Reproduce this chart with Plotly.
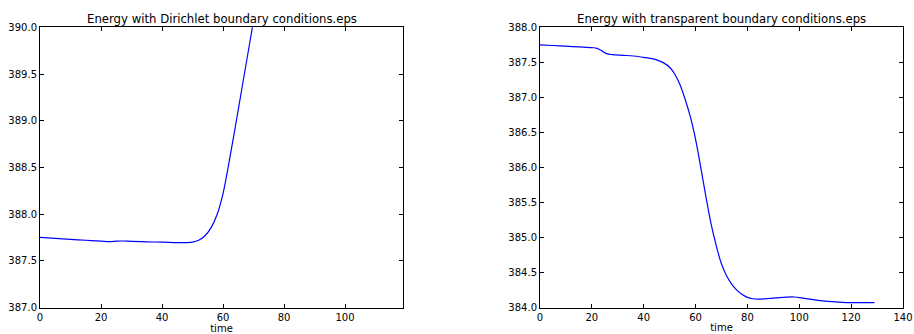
import plotly.graph_objects as go

# Energy history with Dirichlet boundary conditions
t_dirichlet = [0, 5, 10, 15, 20, 23, 25, 27, 30, 35, 40, 45, 48, 50, 52, 54, 56, 58,
               60, 62, 64, 66, 68, 70, 72]
e_dirichlet = [387.75, 387.74, 387.73, 387.72, 387.71, 387.705, 387.71, 387.712,
               387.708, 387.703, 387.70, 387.695, 387.695, 387.70, 387.72, 387.765,
               387.85, 387.99, 388.22, 388.56, 388.93, 389.31, 389.69, 390.07, 390.45]

# Energy history with transparent boundary conditions
t_transparent = [0, 5, 10, 15, 20, 22, 24, 26, 28, 32, 36, 40, 42, 44, 46, 48, 50, 52,
                 54, 56, 58, 60, 62, 64, 66, 68, 70, 72, 74, 76, 78, 80, 82, 84, 87,
                 90, 94, 98, 102, 106, 110, 114, 118, 122, 126, 129]
e_transparent = [387.75, 387.74, 387.73, 387.72, 387.71, 387.70, 387.66, 387.62,
                 387.61, 387.60, 387.59, 387.57, 387.56, 387.545, 387.52, 387.485,
                 387.43, 387.33, 387.18, 386.97, 386.72, 386.40, 386.00, 385.58,
                 385.19, 384.88, 384.62, 384.45, 384.33, 384.245, 384.185, 384.145,
                 384.125, 384.12, 384.125, 384.135, 384.145, 384.15, 384.13, 384.11,
                 384.09, 384.08, 384.07, 384.07, 384.07, 384.07]

titles = ["Energy with Dirichlet boundary conditions.eps",
          "Energy with transparent boundary conditions.eps"]
x_label = "time"

FONT = "DejaVu Sans"
fig = go.Figure()
fig.add_trace(go.Scatter(x=t_dirichlet, y=e_dirichlet, mode="lines",
                         line=dict(color="#0000ff", width=1.2, shape="spline", smoothing=1.0),
                         xaxis="x", yaxis="y", showlegend=False))
fig.add_trace(go.Scatter(x=t_transparent, y=e_transparent, mode="lines",
                         line=dict(color="#0000ff", width=1.2, shape="spline", smoothing=1.0),
                         xaxis="x2", yaxis="y2", showlegend=False))

W, H = 914, 334
dom_x1 = [40 / W, 403 / W]
dom_x2 = [540 / W, 903 / W]
dom_y = [1 - 307.5 / H, 1 - 27.3 / H]

axis_style = dict(showgrid=False, zeroline=False, showline=True, linecolor="black",
                  linewidth=1, mirror="allticks", ticks="inside", ticklen=4,
                  tickcolor="black", tickwidth=1, automargin=False,
                  tickfont=dict(family=FONT, size=10, color="black"))

fig.update_layout(
    width=W, height=H, margin=dict(l=0, r=0, t=0, b=0),
    paper_bgcolor="white", plot_bgcolor="white",
    font=dict(family=FONT, color="black"),
    xaxis=dict(domain=dom_x1, range=[0, 119], dtick=20, anchor="y",
               title=dict(text=x_label, font=dict(size=10), standoff=2), **axis_style),
    yaxis=dict(domain=dom_y, range=[387, 390], dtick=0.5, tickformat=".1f", anchor="x",
               **axis_style),
    xaxis2=dict(domain=dom_x2, range=[0, 140], dtick=20, anchor="y2",
                title=dict(text=x_label, font=dict(size=10), standoff=2), **axis_style),
    yaxis2=dict(domain=dom_y, range=[384, 388], dtick=0.5, tickformat=".1f", anchor="x2",
                **axis_style),
)

for dom, text in zip([dom_x1, dom_x2], titles):
    fig.add_annotation(x=(dom[0] + dom[1]) / 2, y=dom_y[1], xref="paper", yref="paper",
                       text=text, showarrow=False, xanchor="center", yanchor="bottom",
                       yshift=-1, font=dict(family=FONT, size=11.7, color="black"))

fig.write_html("out.html")
